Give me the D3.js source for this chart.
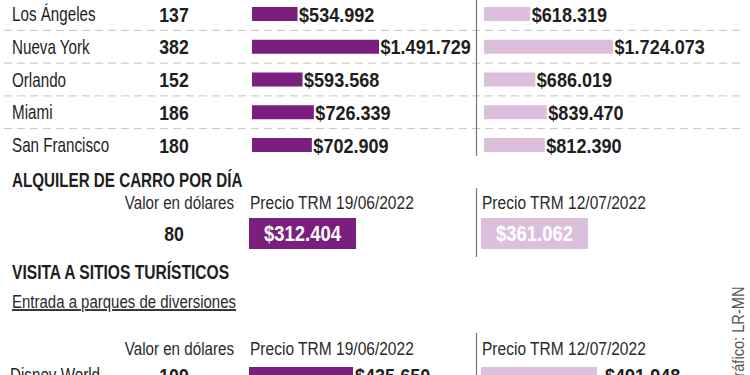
<!DOCTYPE html>
<html><head><meta charset="utf-8">
<script src="https://cdn.jsdelivr.net/npm/d3@7"></script>
<style>
html,body{margin:0;padding:0;background:#fff;}
svg{display:block;}
text{font-family:"Liberation Sans","Arial",sans-serif;}
</style></head><body>
<svg id="chart" width="750" height="375"></svg>
<script>
// ---- data ----
const cities = ["Los Ángeles", "Nueva York", "Orlando", "Miami", "San Francisco"];
const usdValues = [137, 382, 152, 186, 180];
const trmJune = [534992, 1491729, 593568, 726339, 702909];
const trmJuly = [618319, 1724073, 686019, 839470, 812390];

const carUsd = [80];
const carJune = [312404];
const carJuly = [361062];

const parks = ["Disney World"];
const parkUsd = [109];
const parkJune = [435650];
const parkJuly = [491948];

const headers = ["Valor en dólares", "Precio TRM 19/06/2022", "Precio TRM 12/07/2022"];
const sections = ["ALQUILER DE CARRO POR DÍA", "VISITA A SITIOS TURÍSTICOS"];
const subtitle = "Entrada a parques de diversiones";
const credit = "Gráfico: LR-MN";

// ---- style ----
const dark = "#7a1f7d", light = "#dcbfdd", ink = "#1e1e1e", grey = "#2a2a2a";
const loc = d3.formatLocale({decimal: ",", thousands: ".", grouping: [3], currency: ["$", ""]});
const fmt = loc.format("$,");

const svg = d3.select("#chart");
const colUsd = 174, colJune = 252, colJuly = 484, divX = 476.5;

// condensed text helper (horizontal squeeze of a regular face)
function txt(parent, x, y, s, o) {
  o = o || {};
  const t = parent.append("text")
    .attr("transform", `translate(${x},${y}) scale(${o.sx || 0.8},1)`)
    .attr("font-size", o.size || 19)
    .attr("font-weight", o.bold ? "bold" : "normal")
    .attr("fill", o.fill || ink)
    .attr("text-anchor", o.anchor || "start")
    .text(s);
  if (o.underline) t.attr("text-decoration", "underline");
  return t;
}

// ---- city table ----
const y = d3.scalePoint().domain(cities).range([14, 145]);
const xJune = d3.scaleLinear().domain([0, d3.max(trmJune)]).range([0, 127]);
const xJuly = d3.scaleLinear().domain([0, d3.max(trmJuly)]).range([0, 129]);
const barH = 14;
const step = y.step();
const rows = cities.map((c, i) => ({c, usd: usdValues[i], jun: trmJune[i], jul: trmJuly[i]}));

svg.append("g").selectAll("line").data(cities.slice(1)).join("line")
  .attr("x1", 4).attr("x2", 742)
  .attr("y1", d => y(d) - step / 2).attr("y2", d => y(d) - step / 2)
  .attr("stroke", "#c4c4c4").attr("stroke-width", 1).attr("stroke-dasharray", "8,5");

svg.append("line").attr("x1", divX).attr("x2", divX).attr("y1", 0).attr("y2", 156)
  .attr("stroke", "#777").attr("stroke-width", 1.2);

rows.forEach(d => {
  const g = svg.append("g").attr("transform", `translate(0,${y(d.c)})`);
  txt(g, 12, 7, d.c, {size: 20, sx: 0.76});
  txt(g, colUsd, 7.5, d.usd, {size: 21, bold: true, sx: 0.84, anchor: "middle"});
  g.append("rect").attr("x", colJune).attr("y", -barH / 2).attr("height", barH)
    .attr("width", xJune(d.jun)).attr("fill", dark);
  txt(g, colJune + xJune(d.jun) + 1.5, 7.5, fmt(d.jun), {size: 21, bold: true, sx: 0.86});
  g.append("rect").attr("x", colJuly).attr("y", -barH / 2).attr("height", barH)
    .attr("width", xJuly(d.jul)).attr("fill", light);
  txt(g, colJuly + xJuly(d.jul) + 1.5, 7.5, fmt(d.jul), {size: 21, bold: true, sx: 0.86});
});

// ---- car rental ----
txt(svg, 12, 187, sections[0], {size: 20, bold: true, sx: 0.76});

function headerRow(yb, divTop, divBot) {
  txt(svg, 234, yb, headers[0], {size: 18.5, sx: 0.82, anchor: "end", fill: grey});
  txt(svg, 250, yb, headers[1], {size: 18.5, sx: 0.84, fill: grey});
  txt(svg, 482, yb, headers[2], {size: 18.5, sx: 0.84, fill: grey});
  svg.append("line").attr("x1", divX).attr("x2", divX).attr("y1", divTop).attr("y2", divBot)
    .attr("stroke", "#777").attr("stroke-width", 1.2);
}
headerRow(209, 188, 257);

txt(svg, colUsd, 241, carUsd[0], {size: 21, bold: true, sx: 0.84, anchor: "middle"});
const boxX = d3.scaleOrdinal().domain(["jun", "jul"]).range([colJune - 3, colJuly - 3]);
const boxW = 107;
[["jun", dark, carJune[0]], ["jul", light, carJuly[0]]].forEach(([k, col, v]) => {
  svg.append("rect").attr("x", boxX(k)).attr("y", 218).attr("width", boxW).attr("height", 31).attr("fill", col);
  txt(svg, boxX(k) + boxW / 2, 241, fmt(v), {size: 22, bold: true, sx: 0.84, anchor: "middle", fill: "#fff"});
});

// ---- tourist sites ----
txt(svg, 12, 279, sections[1], {size: 20, bold: true, sx: 0.78});
txt(svg, 12, 308, subtitle, {size: 18.5, sx: 0.81, underline: true, fill: grey});

headerRow(355, 333, 375);

const yP = d3.scalePoint().domain(parks).range([375, 375]);
const pJune = d3.scaleLinear().domain([0, d3.max(parkJune)]).range([0, 104]);
const pJuly = d3.scaleLinear().domain([0, d3.max(parkJuly)]).range([0, 116]);
parks.forEach((p, i) => {
  const g = svg.append("g").attr("transform", `translate(0,${yP(p)})`);
  txt(g, 10, 7, p, {size: 20, sx: 0.76});
  txt(g, colUsd, 7.5, parkUsd[i], {size: 21, bold: true, sx: 0.84, anchor: "middle"});
  g.append("rect").attr("x", colJune - 3).attr("y", -8).attr("height", 16).attr("width", pJune(parkJune[i])).attr("fill", dark);
  txt(g, colJune - 3 + pJune(parkJune[i]) + 2, 7.5, fmt(parkJune[i]), {size: 21, bold: true, sx: 0.86});
  g.append("rect").attr("x", colJuly - 3).attr("y", -8).attr("height", 16).attr("width", pJuly(parkJuly[i])).attr("fill", light);
  txt(g, colJuly - 3 + pJuly(parkJuly[i]) + 8, 7.5, fmt(parkJuly[i]), {size: 21, bold: true, sx: 0.86});
});

// credit (vertical)
svg.append("text").attr("transform", "translate(744,388) rotate(-90) scale(0.86,1)")
  .attr("font-size", 17).attr("fill", "#555").text(credit);
</script>
</body></html>
